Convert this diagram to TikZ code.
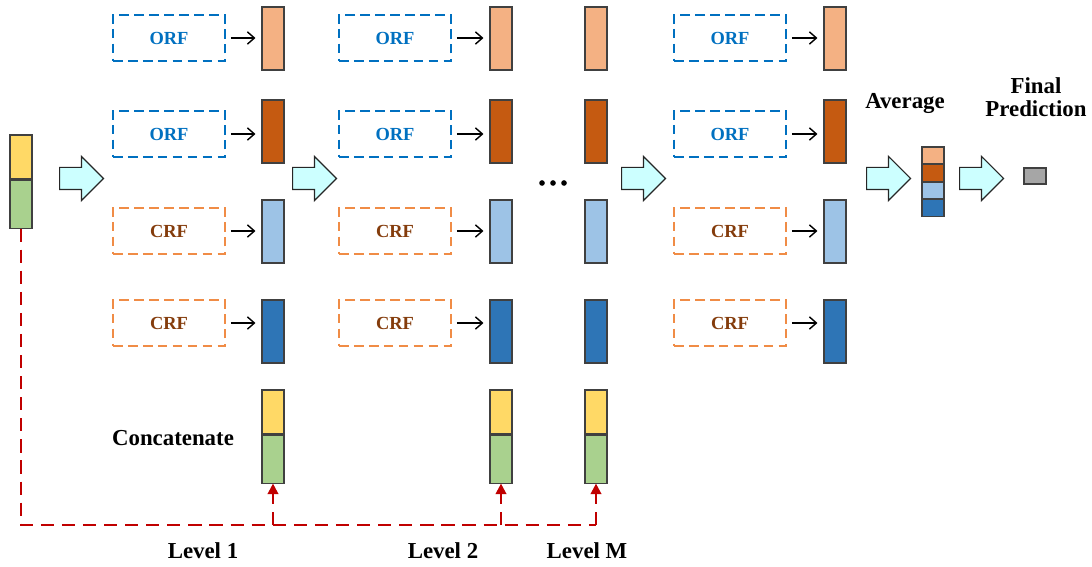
\documentclass[tikz,border=0pt]{standalone}
\usepackage{fontspec}
\setmainfont{Liberation Serif}
\usetikzlibrary{shapes.arrows,arrows.meta,positioning}

\definecolor{orfblue}{HTML}{0070C0}
\definecolor{crforange}{HTML}{F08C46}
\definecolor{crftext}{HTML}{843C0C}
\definecolor{vLightOrange}{HTML}{F4B183}
\definecolor{vDarkOrange}{HTML}{C55A11}
\definecolor{vLightBlue}{HTML}{9DC3E6}
\definecolor{vDarkBlue}{HTML}{2E75B6}
\definecolor{vYellow}{HTML}{FFD966}
\definecolor{vGreen}{HTML}{A9D18E}
\definecolor{vGray}{HTML}{A6A6A6}
\definecolor{busred}{HTML}{C00000}
\definecolor{bigcyan}{HTML}{CCFFFF}

\begin{document}
\begin{tikzpicture}[x=0.02cm, y=-0.02cm,
  rfbox/.style={rectangle, dashed, dash pattern=on 5.5pt off 3pt, line width=0.9pt,
    minimum width=2.24cm, minimum height=0.92cm, font=\fontsize{10.5}{12}\selectfont\bfseries},
  orfbox/.style={rfbox, draw=orfblue, text=orfblue},
  crfbox/.style={rfbox, draw=crforange, text=crftext},
  bar/.style={rectangle, draw=black!75, line width=0.6pt, minimum width=0.44cm,
    minimum height=1.26cm, inner sep=0pt},
  cattop/.style={bar, fill=vYellow, minimum height=0.88cm},
  catbot/.style={bar, fill=vGreen, minimum height=0.96cm},
  avgpart/.style={bar, minimum height=0.33cm},
  bigarrow/.style={single arrow, draw=black!85, fill=bigcyan, line width=0.7pt,
    minimum height=0.88cm, minimum width=0.86cm, inner sep=0.21cm,
    single arrow head extend=0.22cm, anchor=tail},
  smallarrow/.style={-{Straight Barb[length=4pt,width=7pt]}, line width=0.8pt,
    shorten <=0.1cm, shorten >=0.12cm},
  busline/.style={busred, line width=1.2pt, dash pattern=on 7.5pt off 4.5pt},
  busarrow/.style={busline, -{Triangle[length=6pt,width=6pt]}},
  lbl/.style={font=\fontsize{13}{15}\selectfont\bfseries}
]
\useasboundingbox (0,0) rectangle (1092,567);

% input vector
\node[cattop] (in-a) at (21,157) {};
\node[catbot, below=0pt of in-a] (in-b) {};

% forest levels
\foreach \c/\bx/\rx in {1/169/273, 2/395/501, 4/730/835}{
  \node[orfbox] (b\c-1) at (\bx,38) {ORF};
  \node[orfbox] (b\c-2) at (\bx,134) {ORF};
  \node[crfbox] (b\c-3) at (\bx,231) {CRF};
  \node[crfbox] (b\c-4) at (\bx,323) {CRF};
  \node[bar, fill=vLightOrange] (v\c-1) at (\rx,38.5) {};
  \node[bar, fill=vDarkOrange] (v\c-2) at (\rx,131.5) {};
  \node[bar, fill=vLightBlue] (v\c-3) at (\rx,231.5) {};
  \node[bar, fill=vDarkBlue] (v\c-4) at (\rx,331.5) {};
  \foreach \r in {1,...,4}
    \draw[smallarrow] (b\c-\r.east) -- (v\c-\r.west |- b\c-\r.east);
}
% level M outputs
\node[bar, fill=vLightOrange] (vM-1) at (596,38.5) {};
\node[bar, fill=vDarkOrange] (vM-2) at (596,131.5) {};
\node[bar, fill=vLightBlue] (vM-3) at (596,231.5) {};
\node[bar, fill=vDarkBlue] (vM-4) at (596,331.5) {};

% dots
\foreach \dx in {-11,0,11}
  \fill (553+\dx,183) circle (1.6pt);

% concatenated vectors
\foreach \c/\rx in {1/273, 2/501, M/596}{
  \node[cattop] (cat\c-a) at (\rx,412) {};
  \node[catbot, below=0pt of cat\c-a] (cat\c-b) {};
}
\node[lbl] (concat) at (173,438) {Concatenate};

% big arrows
\node[bigarrow] (ba1) at (59,178.5) {};
\node[bigarrow] (ba2) at (292,178.5) {};
\node[bigarrow] (ba3) at (621,178.5) {};
\node[bigarrow] (ba4) at (866,178.5) {};
\node[bigarrow] (ba5) at (959,178.5) {};

% average
\node[avgpart, fill=vLightOrange] (avg-1) at (933,155.25) {};
\node[avgpart, fill=vDarkOrange, below=0pt of avg-1] (avg-2) {};
\node[avgpart, fill=vLightBlue, below=0pt of avg-2] (avg-3) {};
\node[avgpart, fill=vDarkBlue, below=0pt of avg-3] (avg-4) {};
\node[lbl] (average) at (905,103) {Average};

% final prediction
\node[bar, fill=vGray, minimum height=0.32cm] (pred) at (1035,176) {};
\node[lbl, align=center, inner sep=0pt] (predlbl) at (1036,97) {Final\\[-2pt]Prediction};

% level links
\coordinate (busM) at (596,525);
\draw[busline] (in-b.south) |- (busM);
\draw[busarrow] (cat1-b.south |- busM) -- (cat1-b.south);
\draw[busarrow] (cat2-b.south |- busM) -- (cat2-b.south);
\draw[busarrow] (busM) -- (catM-b.south);

\node[lbl] (lev1) at (203,551) {Level 1};
\node[lbl] (lev2) at (443,551) {Level 2};
\node[lbl] (levM) at (587,551) {Level M};
\end{tikzpicture}
\end{document}
